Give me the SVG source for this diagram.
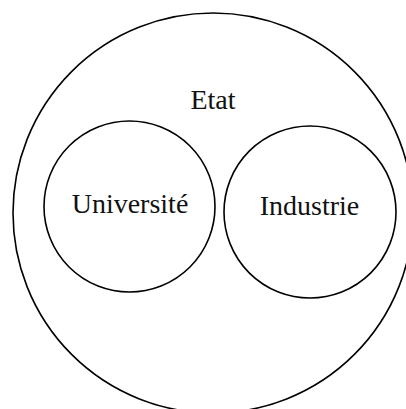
<svg xmlns="http://www.w3.org/2000/svg" width="406" height="409" viewBox="0 0 406 409">
<style>
.c{fill:none;stroke:#000;stroke-width:1.6}
.t{font-family:"Liberation Serif","Times New Roman",serif;font-size:28px;fill:#111;text-anchor:middle}
</style>
<rect width="406" height="409" fill="#fff"/>
<g id="etat">
<circle class="c" cx="213" cy="213" r="200"/>
<text class="t" x="213" y="109">Etat</text>
</g>
<g id="universite">
<circle class="c" cx="129.5" cy="206.5" r="85.5"/>
<text class="t" x="130" y="213">Université</text>
</g>
<g id="industrie">
<circle class="c" cx="310" cy="212" r="86"/>
<text class="t" x="309.5" y="215">Industrie</text>
</g>
<g id="connectors"/>
</svg>
